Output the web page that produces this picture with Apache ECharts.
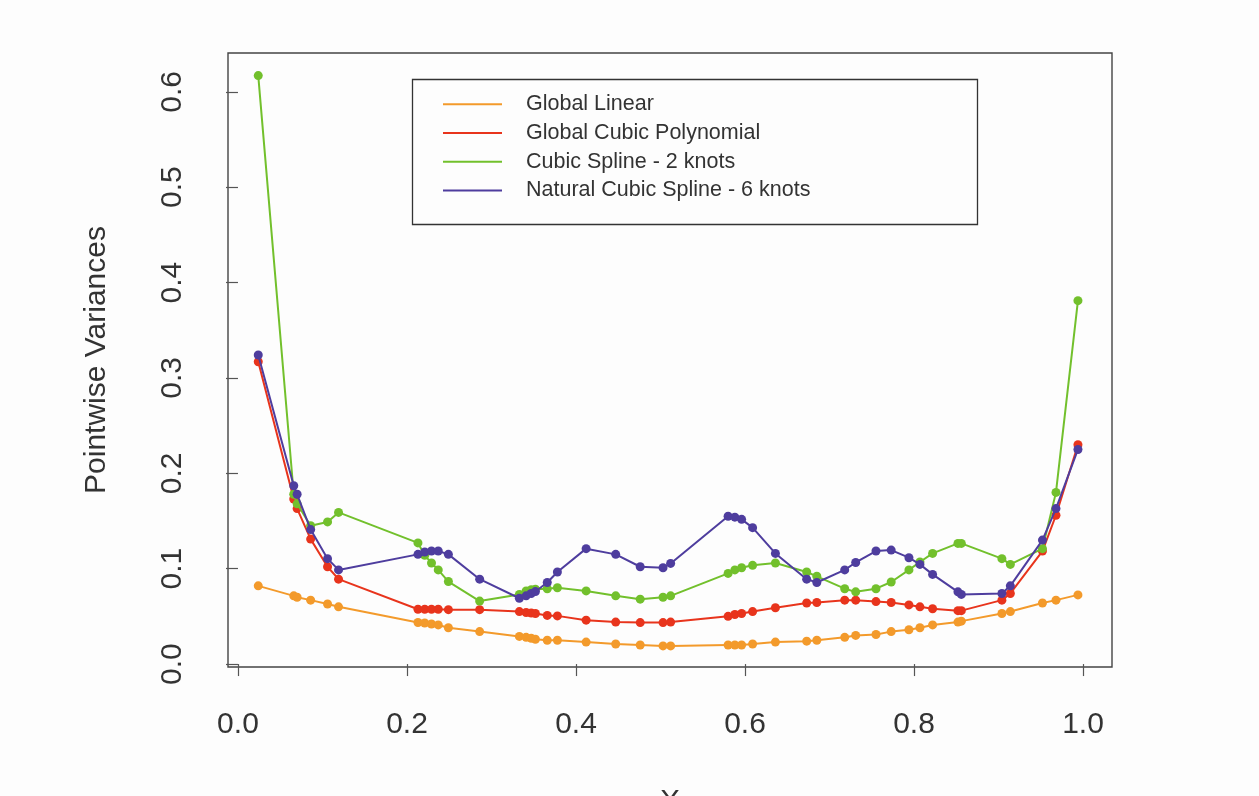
<!DOCTYPE html>
<html>
<head>
<meta charset="utf-8">
<script src="https://cdn.jsdelivr.net/npm/echarts@6/dist/echarts.min.js"></script>
<style>
html,body{margin:0;padding:0;background:#fdfdfd;overflow:hidden;}
#chart{width:1259px;height:796px;}
</style>
</head>
<body>
<div id="chart"></div>
<script>
var xValues = [0.024, 0.066, 0.070, 0.086, 0.106, 0.119, 0.213, 0.221, 0.229, 0.237, 0.249, 0.286,
  0.333, 0.341, 0.347, 0.352, 0.366, 0.378, 0.412, 0.447, 0.476, 0.503, 0.512, 0.580, 0.588, 0.596,
  0.609, 0.636, 0.673, 0.685, 0.718, 0.731, 0.755, 0.773, 0.794, 0.807, 0.822, 0.852, 0.856, 0.904,
  0.914, 0.952, 0.968, 0.994];

var globalLinear = [0.082, 0.0715, 0.070, 0.067, 0.063, 0.060, 0.0436, 0.043, 0.042, 0.041, 0.038, 0.034,
  0.029, 0.028, 0.027, 0.026, 0.025, 0.025, 0.023, 0.021, 0.020, 0.019, 0.019, 0.020, 0.020, 0.020,
  0.021, 0.023, 0.024, 0.025, 0.028, 0.030, 0.031, 0.034, 0.036, 0.038, 0.041, 0.044, 0.045, 0.053,
  0.055, 0.064, 0.067, 0.0725];

var globalCubic = [0.317, 0.173, 0.163, 0.131, 0.102, 0.089, 0.0575, 0.0575, 0.0575, 0.0575, 0.057, 0.057,
  0.055, 0.054, 0.0535, 0.053, 0.051, 0.0505, 0.046, 0.044, 0.0435, 0.0435, 0.044, 0.050, 0.052, 0.053,
  0.055, 0.059, 0.064, 0.0645, 0.067, 0.067, 0.0655, 0.0645, 0.062, 0.060, 0.058, 0.056, 0.056, 0.067,
  0.074, 0.1185, 0.156, 0.230];

var cubicSpline2 = [0.617, 0.178, 0.168, 0.145, 0.149, 0.159, 0.127, 0.114, 0.106, 0.0987, 0.0865, 0.066,
  0.073, 0.0767, 0.078, 0.0785, 0.079, 0.080, 0.0767, 0.0715, 0.068, 0.070, 0.0715, 0.095, 0.0987, 0.101,
  0.1035, 0.106, 0.0965, 0.092, 0.079, 0.0757, 0.079, 0.086, 0.0987, 0.107, 0.116, 0.1265, 0.1265, 0.1105,
  0.1045, 0.121, 0.180, 0.381];

var naturalSpline6 = [0.324, 0.187, 0.178, 0.141, 0.1105, 0.0987, 0.115, 0.1175, 0.1185, 0.1185, 0.115, 0.089,
  0.069, 0.0715, 0.074, 0.076, 0.0855, 0.0965, 0.121, 0.115, 0.102, 0.101, 0.1055, 0.155, 0.154, 0.1517,
  0.143, 0.116, 0.089, 0.0855, 0.0987, 0.1065, 0.1185, 0.1195, 0.1115, 0.1045, 0.094, 0.0757, 0.073, 0.074,
  0.082, 0.130, 0.163, 0.225];

var xTicks = [0.0, 0.2, 0.4, 0.6, 0.8, 1.0];
var yTicks = [0.0, 0.1, 0.2, 0.3, 0.4, 0.5, 0.6];

var seriesNames = ['Global Linear', 'Global Cubic Polynomial', 'Cubic Spline - 2 knots', 'Natural Cubic Spline - 6 knots'];
var seriesColors = ['#F39A2B', '#E8341C', '#72C02C', '#4E3D9E'];
var seriesValues = [globalLinear, globalCubic, cubicSpline2, naturalSpline6];

function pairs(ys) {
  return xValues.map(function (x, i) { return [x, ys[i]]; });
}

var font = 'Liberation Sans, Arial, Helvetica, sans-serif';
var chart = echarts.init(document.getElementById('chart'));
chart.setOption({
  animation: false,
  backgroundColor: '#fdfdfd',
  grid: {
    left: 228, right: 147, top: 53, bottom: 129,
    outerBoundsMode: 'none', containLabel: false,
    show: true, borderColor: '#444', borderWidth: 1.4, backgroundColor: 'transparent'
  },
  xAxis: {
    type: 'value', min: -0.0118, max: 1.0343,
    name: 'X', nameLocation: 'middle', nameGap: 120,
    nameTextStyle: { fontFamily: font, fontSize: 30, color: '#333' },
    axisLine: { show: false },
    splitLine: { show: false },
    axisTick: { show: true, length: 12, customValues: xTicks, lineStyle: { color: '#555', width: 1.2 } },
    axisLabel: {
      customValues: xTicks, margin: 43, fontFamily: font, fontSize: 30, color: '#333',
      formatter: function (v) { return v.toFixed(1); }
    }
  },
  yAxis: {
    type: 'value', min: -0.0031, max: 0.6407,
    name: 'Pointwise Variances', nameLocation: 'middle', nameGap: 116, nameRotate: 90,
    nameTextStyle: { fontFamily: font, fontSize: 30, color: '#333' },
    axisLine: { show: false },
    splitLine: { show: false },
    axisTick: { show: true, length: 12, customValues: yTicks, lineStyle: { color: '#555', width: 1.2 } },
    axisLabel: {
      customValues: yTicks, margin: 40, rotate: 90, fontFamily: font, fontSize: 30, color: '#333',
      formatter: function (v) { return v.toFixed(1); }
    }
  },
  legend: {
    orient: 'vertical', left: 438, top: 85,
    itemWidth: 59, itemHeight: 2, itemGap: 0, icon: 'rect',
    selectedMode: false,
    textStyle: { fontFamily: font, fontSize: 21.5, color: '#333', lineHeight: 28.7, padding: [0, 0, 0, 19] },
    data: seriesNames
  },
  graphic: [{
    type: 'rect', left: 410, top: 77, z: 10,
    shape: { width: 565, height: 145 },
    style: { fill: 'none', stroke: '#333', lineWidth: 1.3 }
  }],
  series: seriesNames.map(function (name, k) {
    return {
      name: name, type: 'line', data: pairs(seriesValues[k]),
      symbol: 'circle', symbolSize: 9, showSymbol: true,
      lineStyle: { width: 2, color: seriesColors[k] },
      itemStyle: { color: seriesColors[k], borderWidth: 0 },
      z: 2 + k
    };
  })
});
</script>
</body>
</html>
